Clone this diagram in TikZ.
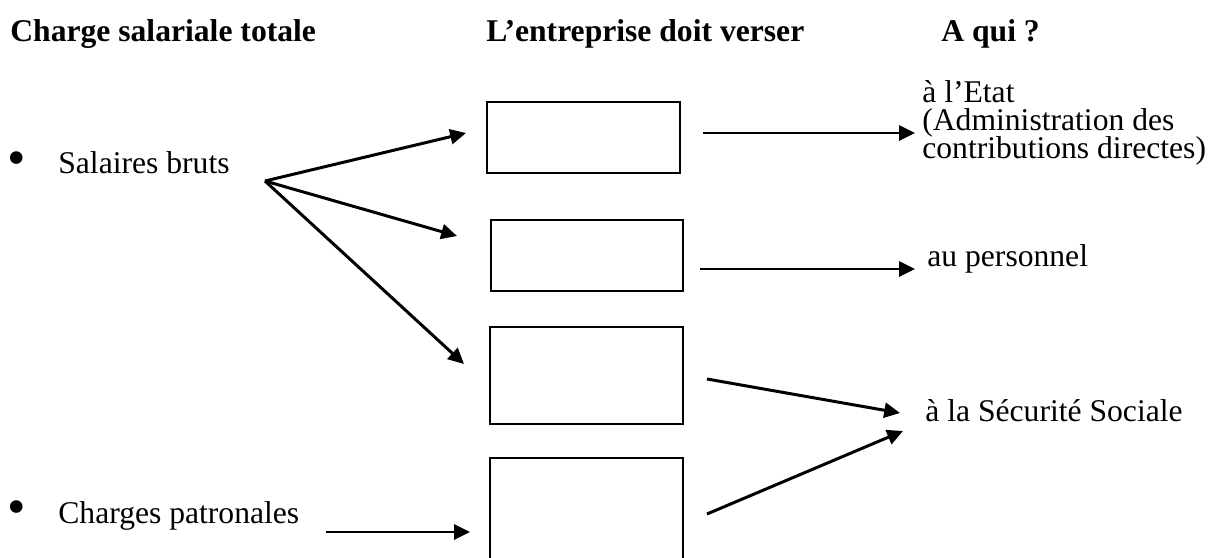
\documentclass[tikz,border=0pt]{standalone}
\usepackage{fontspec}
\setmainfont{Liberation Serif}
\usetikzlibrary{arrows.meta,fit}
\begin{document}
\begin{tikzpicture}[x=0.02cm,y=-0.02cm,
  font=\fontsize{18}{21}\selectfont,
  lbl/.style={anchor=base west,inner sep=0pt},
  bul/.style={inner sep=0pt,font=\fontsize{30}{30}\selectfont},
  ttl/.style={anchor=base west,inner sep=0pt,font=\fontsize{18}{21}\selectfont\bfseries},
  boxst/.style={draw,line width=1.4pt,inner sep=0pt},
  arr/.style={line width=1.7pt,-{Triangle[length=9pt,width=8.5pt]}}]
\useasboundingbox (0,0) rectangle (1225,558);
% titles
\node[ttl] (t1) at (10,41) {Charge salariale totale};
\node[ttl] (t2) at (486,41) {L’entreprise doit verser};
\node[ttl] (t3) at (941,41) {A qui ?};
% left items
\node[bul] (b1) at (17,164) {•};
\node[lbl] (sal) at (58,173) {Salaires bruts};
\node[bul] (b2) at (17,513) {•};
\node[lbl] (cp) at (58,523) {Charges patronales};
% boxes
\node[boxst,fit={(487,102) (680,173)}] (box1) {};
\node[boxst,fit={(491,220) (683,291)}] (box2) {};
\node[boxst,fit={(490,327) (683,424)}] (box3) {};
\node[boxst,fit={(490,458) (683,562)}] (box4) {};
% right labels
\node[lbl] (e1) at (922,102) {à l’Etat};
\node[lbl] (e2) at (922,130) {(Administration des};
\node[lbl] (e3) at (922,158) {contributions directes)};
\node[lbl] (pers) at (927,266) {au personnel};
\node[lbl] (ss) at (925,421) {à la Sécurité Sociale};
% connector points
\coordinate (fan) at (265,181);
\coordinate (f1) at (466,133);
\coordinate (f2) at (457,236);
\coordinate (f3) at (464,364);
\coordinate (cps) at (326,532);
\coordinate (cpe) at (470,532);
\coordinate (o1s) at (703,133);
\coordinate (o1e) at (915,133);
\coordinate (o2s) at (700,269);
\coordinate (o2e) at (915,269);
\coordinate (o3s) at (707,379);
\coordinate (o3e) at (900,413);
\coordinate (o4s) at (707,514);
\coordinate (o4e) at (903,431);
% connectors
\draw[arr] (fan) -- (f1);
\draw[arr] (fan) -- (f2);
\draw[arr] (fan) -- (f3);
\draw[arr] (cps) -- (cpe);
\draw[arr] (o1s) -- (o1e);
\draw[arr] (o2s) -- (o2e);
\draw[arr] (o3s) -- (o3e);
\draw[arr] (o4s) -- (o4e);
\end{tikzpicture}
\end{document}
